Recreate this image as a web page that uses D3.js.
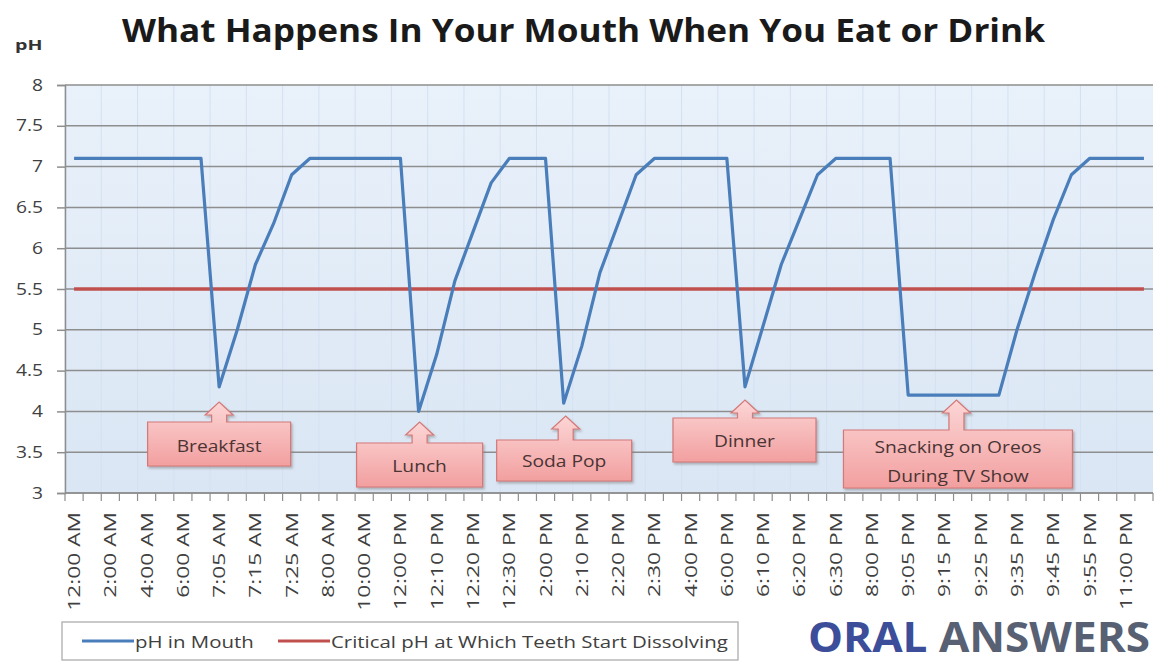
<!DOCTYPE html>
<html><head><meta charset="utf-8">
<script src="https://cdn.jsdelivr.net/npm/d3@7"></script>
<style>body{margin:0;background:#fff;} svg{display:block;}</style>
</head><body><svg id="chart" width="1161" height="666"></svg>
<script>
// ---------------- DATA ----------------
const categories = ["12:00 AM","1:00 AM","2:00 AM","3:00 AM","4:00 AM","5:00 AM","6:00 AM","7:00 AM",
  "7:05 AM","7:10 AM","7:15 AM","7:20 AM","7:25 AM","7:30 AM","8:00 AM","9:00 AM","10:00 AM","11:00 AM",
  "12:00 PM","12:05 PM","12:10 PM","12:15 PM","12:20 PM","12:25 PM","12:30 PM","1:00 PM",
  "2:00 PM","2:05 PM","2:10 PM","2:15 PM","2:20 PM","2:25 PM","2:30 PM","3:00 PM","4:00 PM","5:00 PM",
  "6:00 PM","6:05 PM","6:10 PM","6:15 PM","6:20 PM","6:25 PM","6:30 PM","7:00 PM","8:00 PM","9:00 PM",
  "9:05 PM","9:10 PM","9:15 PM","9:20 PM","9:25 PM","9:30 PM","9:35 PM","9:40 PM","9:45 PM","9:50 PM","9:55 PM",
  "10:00 PM","11:00 PM","11:59 PM"];

const tickLabels = ["12:00 AM","2:00 AM","4:00 AM","6:00 AM","7:05 AM","7:15 AM","7:25 AM","8:00 AM","10:00 AM",
  "12:00 PM","12:10 PM","12:20 PM","12:30 PM","2:00 PM","2:10 PM","2:20 PM","2:30 PM","4:00 PM","6:00 PM",
  "6:10 PM","6:20 PM","6:30 PM","8:00 PM","9:05 PM","9:15 PM","9:25 PM","9:35 PM","9:45 PM","9:55 PM","11:00 PM"];

const phInMouth = [7.1,7.1,7.1,7.1,7.1,7.1,7.1,7.1,
  4.3,5.0,5.8,6.3,6.9,7.1,
  7.1,7.1,7.1,7.1,7.1,
  4.0,4.7,5.6,6.2,6.8,7.1,
  7.1,7.1,
  4.1,4.8,5.7,6.3,6.9,7.1,
  7.1,7.1,7.1,7.1,
  4.3,5.05,5.8,6.35,6.9,7.1,
  7.1,7.1,7.1,
  4.2,4.2,4.2,4.2,4.2,4.2,
  5.0,5.7,6.35,6.9,7.1,
  7.1,7.1,7.1];

const criticalPh = [5.5,5.5,5.5,5.5,5.5,5.5,5.5,5.5,5.5,5.5,5.5,5.5,5.5,5.5,5.5,5.5,5.5,5.5,5.5,5.5,
  5.5,5.5,5.5,5.5,5.5,5.5,5.5,5.5,5.5,5.5,5.5,5.5,5.5,5.5,5.5,5.5,5.5,5.5,5.5,5.5,
  5.5,5.5,5.5,5.5,5.5,5.5,5.5,5.5,5.5,5.5,5.5,5.5,5.5,5.5,5.5,5.5,5.5,5.5,5.5,5.5];

const yTicks = [3,3.5,4,4.5,5,5.5,6,6.5,7,7.5,8];

const seriesNames = ["pH in Mouth","Critical pH at Which Teeth Start Dissolving"];

const annotationLabels = [["Breakfast"],["Lunch"],["Soda Pop"],["Dinner"],["Snacking on Oreos","During TV Show"]];
const annotationAt = ["7:05 AM","12:05 PM","2:05 PM","6:05 PM","9:15 PM"];

// ---------------- DRAWING ----------------
const svg = d3.select("#chart");
const L = 65, R = 1153, T = 85, B = 493;
const x = d3.scaleBand().domain(categories).range([L, R]).padding(0);
const bw = x.bandwidth();
const xc = c => x(c) + bw / 2;
const y = d3.scaleLinear().domain([3, 8]).range([B, T]);

function stretch(sel, k) {
  sel.each(function () {
    const n = this.getComputedTextLength();
    d3.select(this).attr("textLength", n * k).attr("lengthAdjust", "spacingAndGlyphs");
  });
}

const defs = svg.append("defs");
const bg = defs.append("linearGradient").attr("id", "bg").attr("x1", 0).attr("y1", 0).attr("x2", 0).attr("y2", 1);
bg.append("stop").attr("offset", "0%").attr("stop-color", "#e9f1fa");
bg.append("stop").attr("offset", "100%").attr("stop-color", "#dae6f4");
const pk = defs.append("linearGradient").attr("id", "pink").attr("x1", 0).attr("y1", 0).attr("x2", 0).attr("y2", 1);
pk.append("stop").attr("offset", "0%").attr("stop-color", "#fcd6d6");
pk.append("stop").attr("offset", "100%").attr("stop-color", "#f29f9f");
const sh = defs.append("filter").attr("id", "shadow").attr("x", "-10%").attr("y", "-10%").attr("width", "130%").attr("height", "140%");
sh.append("feDropShadow").attr("dx", 1.5).attr("dy", 2).attr("stdDeviation", 1.2)
  .attr("flood-color", "#777").attr("flood-opacity", 0.5);

// plot background
svg.append("rect").attr("x", L).attr("y", T).attr("width", R - L).attr("height", B - T).attr("fill", "url(#bg)");

// faint vertical stripes
svg.append("g").selectAll("line").data(tickLabels).join("line")
  .attr("x1", d => x(d)).attr("x2", d => x(d)).attr("y1", T).attr("y2", B)
  .attr("stroke", "#d3e1f2").attr("stroke-width", 1);

// horizontal gridlines
svg.append("g").selectAll("line").data(yTicks).join("line")
  .attr("x1", L).attr("x2", R).attr("y1", d => y(d)).attr("y2", d => y(d))
  .attr("stroke", "#8e8e8e").attr("stroke-width", 1.5);

// y axis
const yAxis = svg.append("g").attr("transform", `translate(${L},0)`)
  .call(d3.axisLeft(y).tickValues(yTicks).tickSize(8).tickPadding(14).tickFormat(d => String(d)));
yAxis.select(".domain").attr("stroke", "#8e8e8e").attr("stroke-width", 1.5);
yAxis.selectAll(".tick line").attr("stroke", "#8e8e8e").attr("stroke-width", 1.5);
yAxis.selectAll(".tick text").attr("font-family", "Open Sans, sans-serif").attr("font-size", 16)
  .attr("fill", "#404040").call(stretch, 1.2);

// x axis line and ticks at category boundaries
svg.append("line").attr("x1", L).attr("x2", R).attr("y1", B).attr("y2", B)
  .attr("stroke", "#8e8e8e").attr("stroke-width", 1.5);
svg.append("g").selectAll("line").data(categories).join("line")
  .attr("x1", d => x(d)).attr("x2", d => x(d)).attr("y1", B).attr("y2", B + 8)
  .attr("stroke", "#8e8e8e").attr("stroke-width", 1.2);
svg.append("line").attr("x1", R).attr("x2", R).attr("y1", B).attr("y2", B + 8)
  .attr("stroke", "#8e8e8e").attr("stroke-width", 1.2);

// x labels
svg.append("g").selectAll("text").data(tickLabels).join("text")
  .attr("transform", d => `translate(${xc(d)},${B + 19}) rotate(-90)`)
  .attr("text-anchor", "end").attr("dominant-baseline", "central")
  .attr("font-family", "Open Sans, sans-serif").attr("font-size", 16).attr("fill", "#404040")
  .text(d => d).call(stretch, 1.42);

// series lines
const line = d3.line().x((d, i) => xc(categories[i])).y(d => y(d));
svg.append("path").datum(criticalPh).attr("d", line).attr("fill", "none")
  .attr("stroke", "#c0504d").attr("stroke-width", 3.5);
svg.append("path").datum(phInMouth).attr("d", line).attr("fill", "none")
  .attr("stroke", "#4a7ebb").attr("stroke-width", 3.2).attr("stroke-linejoin", "round");

// callouts
const calloutLayout = [
  { tdx: 0, tipY: 402, bdx: 0, w: 143, top: 422, bottom: 466, text: [446] },
  { tdx: 1, tipY: 422, bdx: 0, w: 126, top: 443, bottom: 487, text: [466] },
  { tdx: 2, tipY: 416, bdx: -1.5, w: 135, top: 440, bottom: 481, text: [461] },
  { tdx: 0, tipY: 400, bdx: -0.5, w: 143, top: 418, bottom: 462, text: [441] },
  { tdx: 12, tipY: 400, bdx: 1.5, w: 229, top: 430, bottom: 488, text: [447, 476] }
];
annotationAt.forEach((cat, i) => {
  const lay = calloutLayout[i];
  const tx = xc(cat) + lay.tdx, ty = lay.tipY;
  const cx = tx + lay.bdx;
  const x0 = cx - lay.w / 2, x1 = cx + lay.w / 2;
  const hb = ty + 13;
  const p = d3.path();
  p.moveTo(x0, lay.top);
  p.lineTo(tx - 7.5, lay.top); p.lineTo(tx - 7.5, hb); p.lineTo(tx - 14, hb);
  p.lineTo(tx, ty); p.lineTo(tx + 14, hb); p.lineTo(tx + 7.5, hb); p.lineTo(tx + 7.5, lay.top);
  p.lineTo(x1, lay.top); p.lineTo(x1, lay.bottom); p.lineTo(x0, lay.bottom); p.closePath();
  const g = svg.append("g");
  g.append("path").attr("d", p.toString()).attr("fill", "url(#pink)")
    .attr("stroke", "#d47878").attr("stroke-width", 1.2).attr("filter", "url(#shadow)");
  annotationLabels[i].forEach((t, j) => {
    g.append("text").attr("x", cx).attr("y", lay.text[j]).attr("text-anchor", "middle")
      .attr("dominant-baseline", "central").attr("font-family", "Open Sans, sans-serif")
      .attr("font-size", 16).attr("fill", "#4a3434").text(t).call(stretch, 1.2);
  });
});

// title & axis title
svg.append("text").attr("x", 122).attr("y", 42).attr("font-family", "Open Sans, sans-serif")
  .attr("font-weight", "bold").attr("font-size", 33).attr("fill", "#1a1a1a")
  .attr("textLength", 923).attr("lengthAdjust", "spacingAndGlyphs")
  .text("What Happens In Your Mouth When You Eat or Drink");
svg.append("text").attr("x", 15).attr("y", 50).attr("font-family", "Open Sans, sans-serif")
  .attr("font-weight", "bold").attr("font-size", 14).attr("fill", "#333")
  .text("pH").call(stretch, 1.4);

// legend
svg.append("rect").attr("x", 62).attr("y", 622).attr("width", 676).attr("height", 38)
  .attr("fill", "#fff").attr("stroke", "#a6a6a6").attr("stroke-width", 1.2);
const legColors = ["#4a7ebb", "#c0504d"];
const legX = [82, 278];
seriesNames.forEach((n, i) => {
  svg.append("line").attr("x1", legX[i]).attr("x2", legX[i] + 52).attr("y1", 641).attr("y2", 641)
    .attr("stroke", legColors[i]).attr("stroke-width", 3.2);
  svg.append("text").attr("x", legX[i] + 53).attr("y", 641).attr("dominant-baseline", "central")
    .attr("font-family", "Open Sans, sans-serif").attr("font-size", 17).attr("fill", "#404040")
    .text(n).call(stretch, 1.2);
});

// brand
const brand = svg.append("text").attr("x", 808).attr("y", 652).attr("font-family", "Open Sans, sans-serif")
  .attr("font-weight", "bold").attr("font-size", 42)
  .attr("textLength", 342).attr("lengthAdjust", "spacingAndGlyphs");
brand.append("tspan").attr("fill", "#3c4e9a").text("ORAL");
brand.append("tspan").attr("fill", "#586073").text(" ANSWERS");
</script></body></html>
